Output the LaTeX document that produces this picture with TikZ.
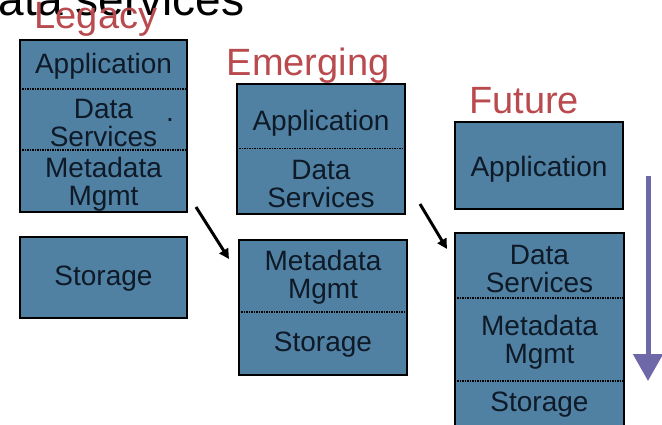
\documentclass[tikz,border=0pt]{standalone}
\usepackage{fontspec}
\setmainfont{Liberation Sans}
\usetikzlibrary{arrows.meta}

\definecolor{boxblue}{RGB}{80,128,162}
\definecolor{inkblue}{RGB}{14,26,40}
\definecolor{headred}{RGB}{185,74,78}
\definecolor{flowpurple}{RGB}{110,104,168}

\tikzset{
  layer/.style={fill=boxblue, inner sep=0pt},
  layertext/.style={text=inkblue, inner sep=0pt, align=center, yshift=-#1,
    font=\fontsize{28}{28}\selectfont},
  layertext/.default=3pt,
  head/.style={text=headred, anchor=base, inner sep=0pt,
    font=\fontsize{38}{40}\selectfont},
  divider/.style={densely dotted, line width=1.5pt},
  frame/.style={draw=black, line width=2pt},
  shiftarrow/.style={-{Triangle[length=10pt,width=10pt]}, line width=3pt},
}

\begin{document}
\begin{tikzpicture}[x=1pt,y=-1pt]
            \useasboundingbox (0,0) rectangle (662,424);
            % title, cut off at the top
            \node[anchor=base west, inner sep=0pt, font=\fontsize{46}{48}\selectfont] at (-27,15) (title) {data services};
            % column headings
            \node[head] at (96,28) (legacy) {Legacy};
            \node[head] at (308,75) (emerging) {Emerging};
            \node[head] at (524,113) (future) {Future};
            % legacy
            \node[layer, minimum width=167pt, minimum height=49pt, label={[layertext=2pt]center:Application}] at (103.5,64.5) (legApp) {};
            \node[layer, minimum width=167pt, minimum height=61pt, label={[layertext]center:{Data\\Services}}] at (103.5,119.5) (legData) {};
            \node[layer, minimum width=167pt, minimum height=62pt, label={[layertext]center:{Metadata\\Mgmt}}] at (103.5,181) (legMeta) {};
            \node[layertext=0pt, anchor=base] at (170,121) (legDot) {.};
            \node[layer, minimum width=167pt, minimum height=81pt, label={[layertext=1pt]center:Storage}] at (103.5,277.5) (legStore) {};
            \draw[frame] (legApp.north west) rectangle (legMeta.south east);
            \draw[frame] (legStore.north west) rectangle (legStore.south east);
            \draw[divider] (legApp.south west) -- (legApp.south east);
            \draw[divider] (legData.south west) -- (legData.south east);
            % emerging
            \node[layer, minimum width=168pt, minimum height=64pt, label={[layertext=7pt]center:Application}] at (321,116.5) (emApp) {};
            \node[layer, minimum width=168pt, minimum height=65pt, label={[layertext]center:{Data\\Services}}] at (321,181) (emData) {};
            \node[layer, minimum width=168pt, minimum height=72pt, label={[layertext=1pt]center:{Metadata\\Mgmt}}] at (323,276) (emMeta) {};
            \node[layer, minimum width=168pt, minimum height=63pt, label={[layertext=1pt]center:Storage}] at (323,343.5) (emStore) {};
            \draw[frame] (emApp.north west) rectangle (emData.south east);
            \draw[frame] (emMeta.north west) rectangle (emStore.south east);
            \draw[divider] (emApp.south west) -- (emApp.south east);
            \draw[divider] (emMeta.south west) -- (emMeta.south east);
            % future
            \node[layer, minimum width=168pt, minimum height=87pt, label={[layertext=4pt]center:Application}] at (539,165.5) (fuApp) {};
            \node[layer, minimum width=169pt, minimum height=65pt, label={[layertext]center:{Data\\Services}}] at (539.5,265.5) (fuData) {};
            \node[layer, minimum width=169pt, minimum height=83pt, label={[layertext]center:{Metadata\\Mgmt}}] at (539.5,339.5) (fuMeta) {};
            \node[layer, minimum width=169pt, minimum height=47pt, label={[layertext=0pt]center:Storage}] at (539.5,404.5) (fuStore) {};
            \draw[frame] (fuApp.north west) rectangle (fuApp.south east);
            \draw[frame] (fuData.north west) rectangle (fuStore.south east);
            \draw[divider] (fuData.south west) -- (fuData.south east);
            \draw[divider] (fuMeta.south west) -- (fuMeta.south east);
            % moves between columns
            \coordinate (moveAfrom) at (196,207);
            \coordinate (moveAto) at (229,259);
            \coordinate (moveBfrom) at (420,204);
            \coordinate (moveBto) at (447,249);
            \draw[shiftarrow] (moveAfrom) to (moveAto);
            \draw[shiftarrow] (moveBfrom) to (moveBto);
            % downward trend
            \coordinate (trendTop) at (648,176);
            \coordinate (trendEnd) at (648,381);
            \draw[flowpurple, line width=5pt, -{Triangle[length=27pt,width=29pt]}] (trendTop) to (trendEnd);
        \end{tikzpicture}
\end{document}
